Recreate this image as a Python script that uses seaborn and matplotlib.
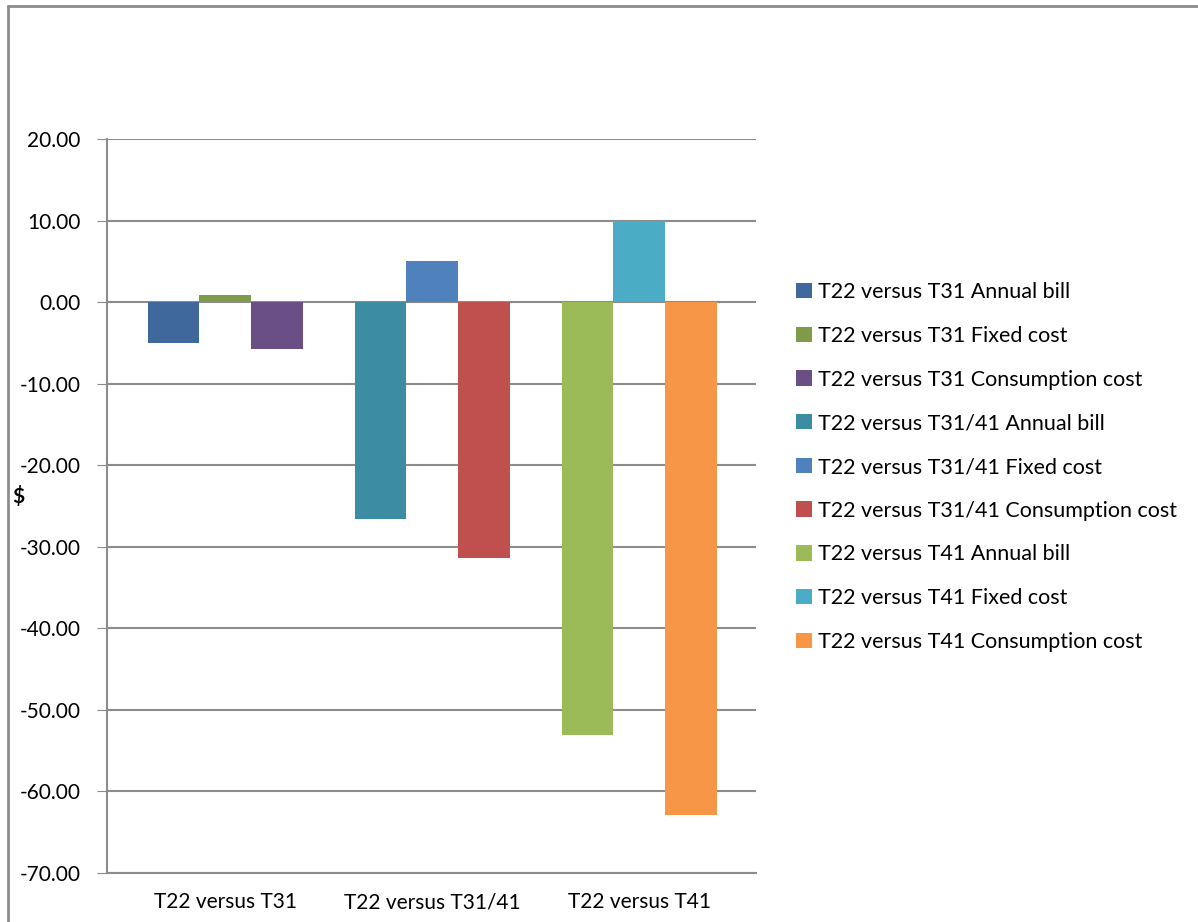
import pandas as pd
import matplotlib
matplotlib.use("Agg")
import matplotlib.pyplot as plt
import matplotlib.patches as mpatches
from matplotlib.lines import Line2D
import seaborn as sns

# data
comparisons = ["T22 versus T31", "T22 versus T31/41", "T22 versus T41"]
components = ["Annual bill", "Fixed cost", "Consumption cost"]
annual_bill = [-5.0, -26.6, -53.1]
fixed_cost = [0.9, 5.0, 9.9]
consumption_cost = [-5.8, -31.4, -62.9]
y_ticks = [20, 10, 0, -10, -20, -30, -40, -50, -60, -70]

# one colour per comparison/component pair (Excel style)
colors = {
    ("T22 versus T31", "Annual bill"): "#3F689C",
    ("T22 versus T31", "Fixed cost"): "#7F9A48",
    ("T22 versus T31", "Consumption cost"): "#6A4F87",
    ("T22 versus T31/41", "Annual bill"): "#3C8CA3",
    ("T22 versus T31/41", "Fixed cost"): "#4F81BD",
    ("T22 versus T31/41", "Consumption cost"): "#C0504D",
    ("T22 versus T41", "Annual bill"): "#9BBB59",
    ("T22 versus T41", "Fixed cost"): "#4BACC6",
    ("T22 versus T41", "Consumption cost"): "#F79646",
}

rows = []
for comp, vals in zip(components, [annual_bill, fixed_cost, consumption_cost]):
    for c, v in zip(comparisons, vals):
        rows.append({"comparison": c, "component": comp, "value": v})
df = pd.DataFrame(rows)

sns.set_style("white")
plt.rcParams["font.family"] = ["Lato", "DejaVu Sans"]
plt.rcParams["text.color"] = "black"
plt.rcParams["xtick.labelcolor"] = "black"
plt.rcParams["ytick.labelcolor"] = "black"
plt.rcParams["axes.labelcolor"] = "black"

fig = plt.figure(figsize=(11.98, 9.22), dpi=100)
ax = fig.add_axes([107 / 1198, 1 - 873 / 922, (756 - 107) / 1198, (873 - 139) / 922])

sns.barplot(data=df, x="comparison", y="value", hue="component",
            order=comparisons, hue_order=components, width=0.75,
            dodge=True, errorbar=None, ax=ax, legend=False, zorder=3)

# recolour each bar so every comparison/component has its own colour
for comp, container in zip(components, ax.containers):
    for c, bar in zip(comparisons, container):
        bar.set_facecolor(colors[(c, comp)])
        bar.set_edgecolor("none")

ax.set_ylim(-70, 20)
ax.set_yticks(y_ticks)
ax.set_yticklabels([f"{t:.2f}" for t in y_ticks], fontsize=15)
ax.set_xlim(-0.572, 2.565)
ax.tick_params(axis="x", labelsize=15, length=0, pad=14, labelcolor="black")
ax.tick_params(axis="y", length=7, color="#8C8C8C", direction="out", left=True, pad=12,
               labelcolor="black")
ax.grid(axis="y", color="#8C8C8C", linewidth=1.5, zorder=0)
ax.set_axisbelow(True)
for side in ["top", "right"]:
    ax.spines[side].set_visible(False)
for side in ["left", "bottom"]:
    ax.spines[side].set_color("#8C8C8C")
    ax.spines[side].set_linewidth(1.5)
ax.set_xlabel("")
ax.set_ylabel("$", rotation=0, fontsize=15, fontweight="bold", color="black")
ax.yaxis.set_label_coords(-0.137, 1 - (507 - 139) / 734)

handles = []
labels = []
for c in comparisons:
    for comp in components:
        handles.append(mpatches.Patch(facecolor=colors[(c, comp)], edgecolor="none"))
        labels.append(f"{c} {comp}")
fig.legend(handles, labels, loc="center left", bbox_to_anchor=(777 / 1198, 1 - 467 / 922),
           frameon=False, fontsize=15.5, handlelength=0.72, handleheight=0.72,
           handletextpad=0.3, labelspacing=1.1, labelcolor="black")

# chart area border
fig.add_artist(Line2D([7.5 / 1198, 7.5 / 1198], [0, 1 - 6 / 922], color="#8C8C8C", linewidth=2))
fig.add_artist(Line2D([7.5 / 1198, 1], [1 - 6 / 922, 1 - 6 / 922], color="#8C8C8C", linewidth=2))

fig.savefig("out.png", dpi=100, facecolor="white")
